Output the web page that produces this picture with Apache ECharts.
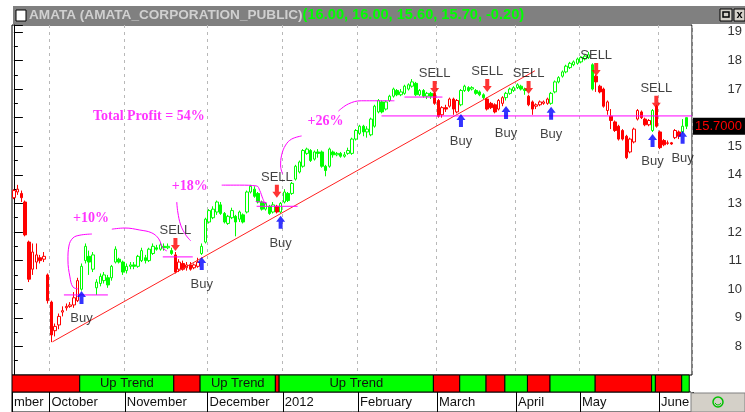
<!DOCTYPE html>
<html>
<head>
<meta charset="utf-8">
<script src="https://cdn.jsdelivr.net/npm/echarts@6/dist/echarts.min.js"></script>
<style>
  html, body { margin: 0; padding: 0; background: #fff; }
  #chart { width: 745px; height: 412px; }
</style>
</head>
<body>
<div id="chart"></div>
<script>
// month labels under the ribbon and trading days in each month (last one has a blank slot)
const monthLabels = ['mber', 'October', 'November', 'December', '2012', 'February', 'March', 'April', 'May', 'June'];
const monthDays = [10, 20, 22, 20, 20, 21, 21, 17, 21, 9];

// daily candles [open, close, low, high]
const ohlc = [
  // Sep
  [13.2, 13.45, 13.15, 13.5], [13.4, 13.5, 13.3, 13.65], [13.35, 13.2, 13.05, 13.45], [13.05, 11.9, 11.85, 13.1],
  [11.65, 10.35, 10.25, 11.7], [10.7, 11.3, 10.5, 11.6], [10.95, 11.2, 10.7, 11.6], [11.1, 11.0, 10.9, 11.2],
  [11.05, 11.15, 10.95, 11.3], [10.5, 9.6, 9.5, 10.55],
  // Oct
  [9.55, 8.4, 8.15, 9.6], [8.55, 8.7, 8.35, 8.8], [8.75, 9.05, 8.6, 9.15], [9.2, 9.25, 9.05, 9.4],
  [9.35, 9.4, 9.25, 9.5], [9.4, 9.45, 9.35, 9.55], [9.45, 9.7, 9.35, 9.9], [9.6, 10.3, 9.55, 10.4],
  [10.0, 10.8, 9.95, 10.9], [11.0, 11.5, 10.9, 11.6], [11.15, 10.95, 10.5, 11.35], [10.7, 11.2, 10.6, 11.3],
  [10.05, 10.25, 9.8, 10.35], [10.2, 10.45, 10.1, 10.55], [10.3, 10.5, 10.2, 10.6], [10.4, 10.15, 10.05, 10.5],
  [10.4, 10.8, 10.3, 10.85], [10.95, 11.4, 10.9, 11.5], [11.05, 10.95, 10.9, 11.1], [10.95, 10.6, 10.5, 11.0],
  // Nov
  [10.65, 10.8, 10.55, 10.9], [10.8, 10.85, 10.7, 10.95], [10.85, 10.8, 10.7, 10.95], [10.8, 11.15, 10.75, 11.2],
  [11.0, 11.35, 10.95, 11.45], [11.1, 11.0, 10.9, 11.2], [11.0, 11.4, 10.95, 11.45], [11.25, 11.5, 11.2, 11.6],
  [11.45, 11.4, 11.35, 11.55], [11.4, 11.55, 11.35, 11.65], [11.5, 11.45, 11.35, 11.6], [11.45, 11.5, 11.4, 11.6],
  [11.35, 11.25, 11.2, 11.45], [11.2, 10.6, 10.55, 11.3], [10.7, 10.95, 10.6, 11.05], [10.9, 10.7, 10.65, 11.0],
  [10.75, 10.85, 10.65, 10.95], [10.85, 10.7, 10.65, 10.95], [10.75, 10.85, 10.7, 10.9], [10.8, 10.95, 10.75, 11.1],
  [11.25, 11.5, 11.2, 11.6], [11.65, 12.45, 11.6, 12.5],
  // Dec
  [12.35, 12.75, 12.3, 12.8], [12.5, 12.8, 12.45, 12.9], [12.7, 13.05, 12.6, 13.1], [12.95, 12.65, 12.6, 13.05],
  [12.65, 12.35, 12.3, 12.7], [12.3, 12.55, 12.25, 12.6], [12.5, 12.75, 12.45, 12.85], [12.55, 12.35, 11.85, 12.6],
  [12.45, 12.7, 12.35, 12.75], [12.6, 12.35, 12.3, 12.65], [12.7, 13.4, 12.65, 13.45], [13.4, 13.6, 13.35, 13.65],
  [13.5, 13.25, 13.2, 13.6], [13.35, 13.05, 13.0, 13.4], [13.05, 12.8, 12.75, 13.1], [12.8, 13.0, 12.75, 13.05],
  [12.9, 12.65, 12.6, 12.95], [12.7, 12.95, 12.65, 13.05], [12.9, 12.7, 12.65, 12.95], [12.7, 13.0, 12.65, 13.05],
  // Jan
  [13.05, 13.4, 13.0, 13.5], [13.35, 13.1, 13.05, 13.4], [13.35, 13.7, 13.3, 13.75], [13.85, 14.3, 13.8, 14.35],
  [14.1, 14.45, 14.05, 14.5], [14.3, 14.85, 14.25, 14.9], [14.75, 14.9, 14.7, 14.95], [14.85, 14.5, 14.45, 14.9],
  [14.55, 14.8, 14.5, 14.85], [14.8, 14.75, 14.6, 14.9], [14.8, 14.3, 14.25, 14.85], [14.3, 14.15, 13.95, 14.35],
  [14.3, 14.9, 14.25, 14.95], [14.8, 14.7, 14.6, 14.85], [14.7, 14.75, 14.65, 14.8], [14.75, 14.65, 14.6, 14.8],
  [14.65, 14.7, 14.6, 14.8], [14.75, 14.85, 14.7, 14.95], [14.75, 15.25, 14.7, 15.3], [15.25, 15.55, 15.2, 15.6],
  // Feb
  [15.45, 15.7, 15.4, 15.75], [15.7, 15.5, 15.35, 15.75], [15.5, 15.6, 15.3, 15.7], [15.4, 15.95, 15.35, 16.0],
  [15.7, 16.4, 15.65, 16.45], [16.2, 16.6, 16.15, 16.65], [16.55, 16.2, 16.15, 16.6], [16.3, 16.55, 16.25, 16.6],
  [16.6, 16.75, 16.55, 16.8], [16.75, 17.0, 16.7, 17.05], [16.95, 16.8, 16.75, 17.0], [16.8, 16.9, 16.75, 17.0],
  [16.85, 17.1, 16.8, 17.15], [17.0, 17.15, 16.95, 17.2], [17.1, 17.25, 17.05, 17.35], [17.2, 16.8, 16.75, 17.25],
  [16.8, 16.95, 16.75, 17.0], [16.95, 16.75, 16.7, 17.0], [16.75, 16.85, 16.65, 16.9], [16.85, 16.75, 16.65, 16.9],
  [16.85, 16.5, 16.45, 16.9],
  // Mar
  [16.6, 16.05, 16.0, 16.65], [16.1, 16.35, 16.0, 16.4], [16.35, 16.3, 16.2, 16.45], [16.4, 16.65, 16.35, 16.7],
  [16.65, 16.3, 16.1, 16.7], [16.2, 16.6, 16.15, 16.65], [16.45, 16.95, 16.4, 17.0], [16.95, 17.1, 16.9, 17.15],
  [17.05, 16.95, 16.9, 17.1], [17.0, 17.05, 16.95, 17.1], [16.95, 16.85, 16.8, 17.0], [16.9, 16.8, 16.75, 16.95],
  [16.8, 16.7, 16.65, 16.85], [16.65, 16.3, 16.25, 16.7], [16.5, 16.35, 16.3, 16.55], [16.45, 16.2, 16.15, 16.5],
  [16.3, 16.6, 16.25, 16.65], [16.5, 16.7, 16.4, 16.75], [16.7, 16.85, 16.6, 16.9], [16.85, 17.0, 16.8, 17.05],
  [16.95, 17.05, 16.9, 17.1],
  // Apr
  [17.05, 17.15, 17.0, 17.2], [17.1, 17.0, 16.95, 17.15], [17.0, 16.95, 16.8, 17.05], [16.75, 16.45, 16.4, 16.8],
  [16.55, 16.3, 16.1, 16.6], [16.4, 16.45, 16.3, 16.5], [16.45, 16.55, 16.4, 16.6], [16.5, 16.55, 16.45, 16.6],
  [16.5, 16.65, 16.45, 16.7], [16.5, 16.85, 16.45, 16.9], [16.9, 17.25, 16.85, 17.3], [17.25, 17.4, 17.2, 17.45],
  [17.45, 17.6, 17.4, 17.65], [17.6, 17.8, 17.55, 17.85], [17.75, 17.9, 17.7, 17.95], [17.85, 17.95, 17.8, 18.0],
  [17.9, 18.05, 17.85, 18.1],
  // May
  [17.95, 18.1, 17.9, 18.15], [18.05, 18.15, 18.0, 18.2], [18.1, 18.2, 18.05, 18.3], [17.85, 17.0, 16.95, 17.9],
  [17.45, 17.25, 16.9, 17.5], [17.1, 16.9, 16.85, 17.15], [17.0, 16.4, 16.35, 17.05], [16.25, 16.55, 16.1, 16.6],
  [16.05, 15.9, 15.6, 16.3], [15.85, 15.55, 15.5, 15.9], [15.7, 15.25, 15.2, 15.75], [15.55, 15.25, 15.2, 15.6],
  [15.35, 14.6, 14.55, 15.4], [14.8, 15.25, 14.75, 15.3], [15.15, 15.6, 15.1, 15.65], [15.95, 16.25, 15.9, 16.3],
  [16.2, 16.0, 15.95, 16.25], [15.95, 15.75, 15.7, 16.0], [15.75, 15.9, 15.7, 15.95], [15.55, 16.25, 15.5, 16.3],
  [16.4, 15.7, 15.65, 16.45],
  // Jun
  [15.5, 14.95, 14.9, 15.55], [15.2, 15.05, 15.0, 15.25], [15.1, 15.12, 15.05, 15.2], [15.12, 15.08, 15.05, 15.15],
  [15.3, 15.55, 15.25, 15.6], [15.5, 15.35, 15.25, 15.55], [15.5, 15.7, 15.45, 15.95], [16.0, 15.7, 15.6, 16.0]
];

// trend state runs: [state, number of bars]
const trendRuns = [
  ['down', 18], ['up', 25], ['down', 7], ['up', 20], ['down', 1], ['up', 41], ['down', 7], ['up', 7],
  ['down', 5], ['up', 6], ['down', 6], ['up', 12], ['down', 15], ['up', 1], ['down', 7], ['up', 2]
];
const bandLabel = 'Up Trend';

// arrow tip levels at each signal, in order
const buyLevels = [9.94, 11.13, 12.57, 16.13, 16.41, 16.38, 15.43, 15.54];
const sellLevels = [11.34, 13.2, 16.83, 16.9, 16.83, 17.46, 16.31];

const lastPrice = 15.7;
const titleName = 'AMATA (AMATA_CORPORATION_PUBLIC)';
const titleQuote = '(16.00, 16.00, 15.60, 15.70, -0.20)';

// drawn annotations, x in bar index units
const trendLine = [[10.27, 8.16], [138.7, 17.64]];
const hLines = [
  [13.32, 25.02, 9.80], [39.64, 47.61, 11.13], [64.62, 75.52, 12.90],
  [103.97, 114.07, 16.72], [97.85, 180.5, 16.06]
];
const arcs = [
  [[20.77, 11.93], [17.58, 11.89], [15.71, 11.79], [14.65, 11.51], [14.39, 11.02], [14.92, 10.43], [15.71, 10.08], [17.04, 10.01]],
  [[26.08, 12.10], [29.54, 12.14], [33.52, 12.07], [36.71, 11.97], [38.57, 11.76], [39.64, 11.44], [40.7, 11.34]],
  [[43.36, 13.05], [43.63, 12.70], [44.42, 12.24], [45.75, 11.90], [47.08, 11.69]],
  [[55.32, 13.64], [60.1, 13.64], [64.62, 13.61], [65.42, 13.46], [66.22, 13.18], [67.02, 12.94]],
  [[64.36, 13.07], [67.28, 13.03]],
  [[76.59, 15.36], [73.93, 15.25], [72.33, 15.04], [71.27, 14.69], [71.0, 14.31], [71.54, 14.03]],
  [[86.39, 16.23], [89.05, 16.48], [92.5, 16.59], [101.28, 16.59]]
];
const notes = [
  [20.5, 12.49, '+10%'], [46.8, 13.61, '+18%'], [82.97, 15.88, '+26%'], [35.92, 16.06, 'Total Profit = 54%']
];

// ---- derived ----
const cats = [];
const monthStart = {};
monthLabels.forEach((m, k) => {
  monthStart[cats.length] = m;
  for (let d = 0; d < monthDays[k]; d++) cats.push(m + ' ' + (d + 1));
});
const nCat = cats.length;

const state = [];
trendRuns.forEach(([s, n]) => { for (let i = 0; i < n; i++) state.push(s); });

const buys = [], sells = [];
let bi = 0, si = 0;
for (let i = 1; i < state.length; i++) {
  if (state[i] === state[i - 1]) continue;
  if (state[i] === 'up') buys.push([i, buyLevels[bi++]]);
  else sells.push([i, sellLevels[si++]]);
}

const bands = [];
let pos = 0;
trendRuns.forEach(([s, n]) => { bands.push([pos, pos + n - 1, s === 'up' ? 1 : 0]); pos += n; });

const upData = ohlc.map((d, i) => state[i] === 'up' ? d : '-');
const downData = ohlc.map((d, i) => state[i] === 'down' ? d : '-');

const FONT = '"Liberation Sans", Arial, sans-serif';
const MAG = '#ff00ff';

const lineSeries = [];
lineSeries.push({
  type: 'line', xAxisIndex: 1, yAxisIndex: 0, data: trendLine, symbol: 'none', silent: true,
  lineStyle: { color: '#ff2020', width: 1 }, z: 3
});
hLines.forEach(h => lineSeries.push({
  type: 'line', xAxisIndex: 1, yAxisIndex: 0, data: [[h[0], h[2]], [h[1], h[2]]], symbol: 'none', silent: true,
  lineStyle: { color: MAG, width: 1 }, z: 3
}));
arcs.forEach(a => lineSeries.push({
  type: 'line', xAxisIndex: 1, yAxisIndex: 0, data: a, symbol: 'none', smooth: 0.4, silent: true,
  lineStyle: { color: MAG, width: 1 }, z: 3
}));

const upArrow = 'path://M4.5,0 L9,6 L6.5,6 L6.5,13 L2.5,13 L2.5,6 L0,6 Z';
const downArrow = 'path://M2.5,0 L6.5,0 L6.5,7 L9,7 L4.5,13 L0,7 L2.5,7 Z';

const chart = echarts.init(document.getElementById('chart'));
chart.setOption({
  animation: false,
  backgroundColor: '#fff',
  grid: [
    { left: 12, right: 52, top: 25, height: 350, show: true, borderColor: '#000', borderWidth: 1 },
    { left: 12, right: 52, top: 375, height: 17 },
    { left: 12, right: 52, top: 392, height: 20, show: true, borderColor: '#000', borderWidth: 1 }
  ],
  xAxis: [
    {
      type: 'category', gridIndex: 0, data: cats, boundaryGap: true,
      axisLine: { show: false }, axisTick: { show: false }, axisLabel: { show: false },
      splitLine: {
        show: true, interval: (i) => i > 0 && monthStart[i] !== undefined,
        lineStyle: { color: '#b8b8b8', type: [3, 4], width: 1 }
      }
    },
    { type: 'value', gridIndex: 0, min: -0.5, max: nCat - 0.5, show: false },
    { type: 'category', gridIndex: 1, data: cats, show: false },
    {
      type: 'category', gridIndex: 2, data: cats, position: 'top', boundaryGap: true,
      axisLine: { show: false },
      axisTick: { show: true, inside: true, length: 6, interval: (i) => i % 5 === 0, lineStyle: { color: '#000' } },
      splitLine: { show: true, interval: (i) => monthStart[i] !== undefined, lineStyle: { color: '#000', width: 1 } },
      axisLabel: {
        show: true, inside: true, margin: 4, align: 'left',
        interval: (i) => monthStart[i] !== undefined,
        formatter: (v, i) => monthStart[i] || '',
        color: '#111', fontSize: 13, fontFamily: FONT
      }
    }
  ],
  yAxis: [
    {
      type: 'value', gridIndex: 0, position: 'right', min: 7, max: 19.24, interval: 1,
      axisLine: { show: true, lineStyle: { color: '#000' } },
      axisTick: { show: true, length: 9, lineStyle: { color: '#000' } },
      minorTick: { show: true, splitNumber: 2, length: 4, lineStyle: { color: '#000' } },
      splitLine: { show: false },
      axisLabel: {
        align: 'right', margin: 50, color: '#333', fontSize: 13, fontFamily: FONT,
        showMinLabel: false, showMaxLabel: false,
        formatter: (v) => v === 16 ? '' : String(v)
      }
    },
    { type: 'value', gridIndex: 1, min: 0, max: 1, show: false },
    { type: 'value', gridIndex: 2, min: 0, max: 1, show: false }
  ],
  graphic: [
    { type: 'rect', shape: { x: 13, y: 6, width: 732, height: 18 }, style: { fill: '#808080' }, z: 10 },
    { type: 'rect', shape: { x: 16, y: 10, width: 10, height: 11 }, style: { fill: '#fff', stroke: '#000', lineWidth: 1 }, z: 11 },
    {
      type: 'text', x: 29, y: 15, z: 11,
      style: {
        text: '{a|' + titleName + '}{b|' + titleQuote + '}', verticalAlign: 'middle',
        rich: {
          a: { fill: '#d0d0d0', font: 'bold 13.6px ' + FONT },
          b: { fill: '#00ff00', font: 'bold 14.6px ' + FONT }
        }
      }
    },
    { type: 'rect', shape: { x: 720, y: 9, width: 12, height: 12 }, style: { fill: '#d4d0c8', stroke: '#000', lineWidth: 1 }, z: 11 },
    { type: 'rect', shape: { x: 723, y: 12, width: 6, height: 5 }, style: { fill: 'none', stroke: '#000', lineWidth: 1.5 }, z: 12 },
    { type: 'rect', shape: { x: 734, y: 9, width: 11, height: 12 }, style: { fill: '#d4d0c8', stroke: '#000', lineWidth: 1 }, z: 11 },
    { type: 'text', x: 739.5, y: 15, z: 12, style: { text: 'x', fill: '#000', font: 'bold 11px ' + FONT, align: 'center', verticalAlign: 'middle' } },
    { type: 'rect', shape: { x: 691, y: 376, width: 54, height: 16 }, style: { fill: '#fff' }, z: 10 },
    { type: 'rect', shape: { x: 691, y: 393, width: 54, height: 19 }, style: { fill: '#d4d0c8', stroke: '#808080', lineWidth: 1 }, z: 10 },
    { type: 'circle', shape: { cx: 718, cy: 402, r: 5 }, style: { fill: 'none', stroke: '#00c000', lineWidth: 1.5 }, z: 11 },
    { type: 'arc', shape: { cx: 718, cy: 402, r: 3, startAngle: 0.3, endAngle: Math.PI - 0.3 }, style: { fill: 'none', stroke: '#00c000', lineWidth: 1 }, z: 11 }
  ],
  series: [
    {
      type: 'candlestick', xAxisIndex: 0, yAxisIndex: 0, data: upData, barWidth: 3,
      itemStyle: { color: '#fff', color0: '#00ff00', borderColor: '#00ff00', borderColor0: '#00ff00', borderColorDoji: '#00ff00', borderWidth: 1 },
      markLine: {
        silent: true, symbol: 'none',
        lineStyle: { color: 'rgba(0,0,0,0)', width: 0 },
        label: {
          show: true, position: 'end', distance: 1, formatter: lastPrice.toFixed(4),
          color: '#ff0000', backgroundColor: '#000', padding: [2, 3, 2, 2], fontSize: 13, fontFamily: FONT
        },
        data: [{ yAxis: lastPrice }]
      },
      z: 2
    },
    {
      type: 'candlestick', xAxisIndex: 0, yAxisIndex: 0, data: downData, barWidth: 3,
      itemStyle: { color: '#fff', color0: '#ff0000', borderColor: '#ff0000', borderColor0: '#ff0000', borderColorDoji: '#ff0000', borderWidth: 1 },
      z: 2
    },
    ...lineSeries,
    {
      type: 'scatter', xAxisIndex: 1, yAxisIndex: 0, data: buys, symbol: upArrow, symbolSize: [9, 13],
      symbolOffset: [0, 6.5], itemStyle: { color: '#0000ff' }, silent: true, z: 5,
      label: { show: true, position: 'bottom', distance: 8, formatter: 'Buy', color: '#111', fontSize: 13, fontFamily: FONT }
    },
    {
      type: 'scatter', xAxisIndex: 1, yAxisIndex: 0, data: sells, symbol: downArrow, symbolSize: [9, 13],
      symbolOffset: [0, -6.5], itemStyle: { color: '#ff0000' }, silent: true, z: 5,
      label: { show: true, position: 'top', distance: 1, formatter: 'SELL', color: '#111', fontSize: 13, fontFamily: FONT }
    },
    {
      type: 'scatter', xAxisIndex: 1, yAxisIndex: 0, data: notes, symbolSize: 1, silent: true, z: 6,
      itemStyle: { color: 'rgba(0,0,0,0)' },
      label: {
        show: true, position: 'inside', formatter: (p) => p.data[2],
        color: MAG, fontSize: 14, fontWeight: 'bold', fontFamily: '"Liberation Serif", "Times New Roman", serif'
      }
    },
    {
      type: 'custom', xAxisIndex: 2, yAxisIndex: 1, data: bands, encode: { x: [0, 1], y: 2 }, silent: true,
      renderItem: (params, api) => {
        const b = bands[params.dataIndex];
        const w = api.size([1, 0])[0];
        const x0 = api.coord([b[0], 0])[0] - w / 2;
        const x1 = api.coord([b[1], 0])[0] + w / 2;
        const cs = params.coordSys;
        const labelled = b[2] === 1 && b[1] - b[0] >= 19;
        return {
          type: 'rect',
          shape: { x: x0, y: cs.y, width: x1 - x0, height: cs.height },
          style: { fill: b[2] ? '#00ff00' : '#ff0000', stroke: '#000', lineWidth: 1 },
          textContent: labelled ? { style: { text: bandLabel, fill: '#111', font: '13px ' + FONT } } : undefined,
          textConfig: labelled ? { position: 'inside' } : undefined
        };
      }
    }
  ]
});
</script>
</body>
</html>
